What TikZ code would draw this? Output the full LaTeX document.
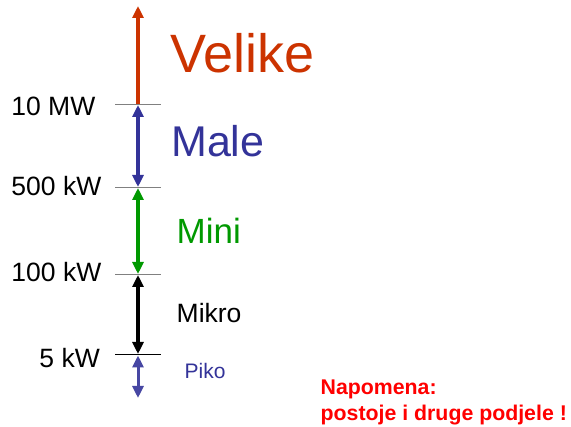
\documentclass[tikz,border=0pt]{standalone}
\usepackage{fontspec}
\setmainfont{Liberation Sans}
\usetikzlibrary{arrows.meta}
\definecolor{cred}{RGB}{204,51,0}
\definecolor{cblue}{RGB}{51,51,153}
\definecolor{cgreen}{RGB}{0,153,0}
\definecolor{cgray}{RGB}{128,128,128}
\definecolor{nred}{RGB}{255,0,0}
\tikzset{
  tip/.style={-{Triangle[length=12pt,width=11pt]}},
  dtip/.style={{Triangle[length=12pt,width=11pt]}-{Triangle[length=12pt,width=11pt]}},
  shaft/.style={line width=3.5pt},
  tickline/.style={draw=cgray,line width=1pt},
  vlabel/.style={anchor=base east,inner sep=0pt,font=\fontsize{26.5}{30}\selectfont},
  cat/.style={anchor=base west,inner sep=0pt},
}
\begin{document}
\begin{tikzpicture}[x=1pt,y=-1pt]
\useasboundingbox[fill=white] (0,0) rectangle (571,427);
% ticks
\coordinate (t0) at (138,6);
\coordinate (t1) at (138,104.5);
\coordinate (t2) at (138,187.5);
\coordinate (t3) at (138,274.5);
\coordinate (t4) at (138,354.5);
\coordinate (t5) at (138,398);
\draw[tickline] (115,104.5) -- (161,104.5);
\draw[tickline] (115,187.5) -- (161,187.5);
\draw[tickline] (115,274.5) -- (161,274.5);
\draw[line width=1pt,black] (115,354.5) -- (161,354.5);
% arrows
\draw[shaft,cred,tip] (t1) -- (t0);
\draw[shaft,cblue,dtip,shorten <=0.5pt,shorten >=0.5pt] (t1) -- (t2);
\draw[shaft,cgreen,dtip,shorten <=0.5pt,shorten >=0.5pt] (t2) -- (t3);
\draw[shaft,black,dtip,shorten <=0.5pt,shorten >=0.5pt] (t3) -- (t4);
\draw[line width=3pt,cblue!90!white,dtip,shorten <=1pt] (t4) -- (t5);
% values
\node[vlabel] (v1) at (95.5,116) {10 MW};
\node[vlabel] (v2) at (101.5,196) {500 kW};
\node[vlabel] (v3) at (101.5,282) {100 kW};
\node[vlabel] (v4) at (100,368) {5 kW};
% categories
\node[cat,text=cred,font=\fontsize{54}{60}\selectfont] (c1) at (170,73) {Velike};
\node[cat,text=cblue,font=\fontsize{43}{48}\selectfont] (c2) at (171,157) {Male};
\node[cat,text=cgreen,font=\fontsize{35}{40}\selectfont] (c3) at (176.5,244) {Mini};
\node[cat,text=black,font=\fontsize{26.5}{30}\selectfont] (c4) at (176.5,323) {Mikro};
\node[cat,text=cblue,font=\fontsize{21}{24}\selectfont] (c5) at (184.5,379) {Piko};
% note
\node[cat,text=nred,font=\bfseries\fontsize{21.3}{26}\selectfont] (n1) at (320.5,395) {Napomena:};
\node[cat,text=nred,font=\bfseries\fontsize{21.3}{26}\selectfont] (n2) at (320.5,421) {postoje i druge podjele !};
\end{tikzpicture}
\end{document}
